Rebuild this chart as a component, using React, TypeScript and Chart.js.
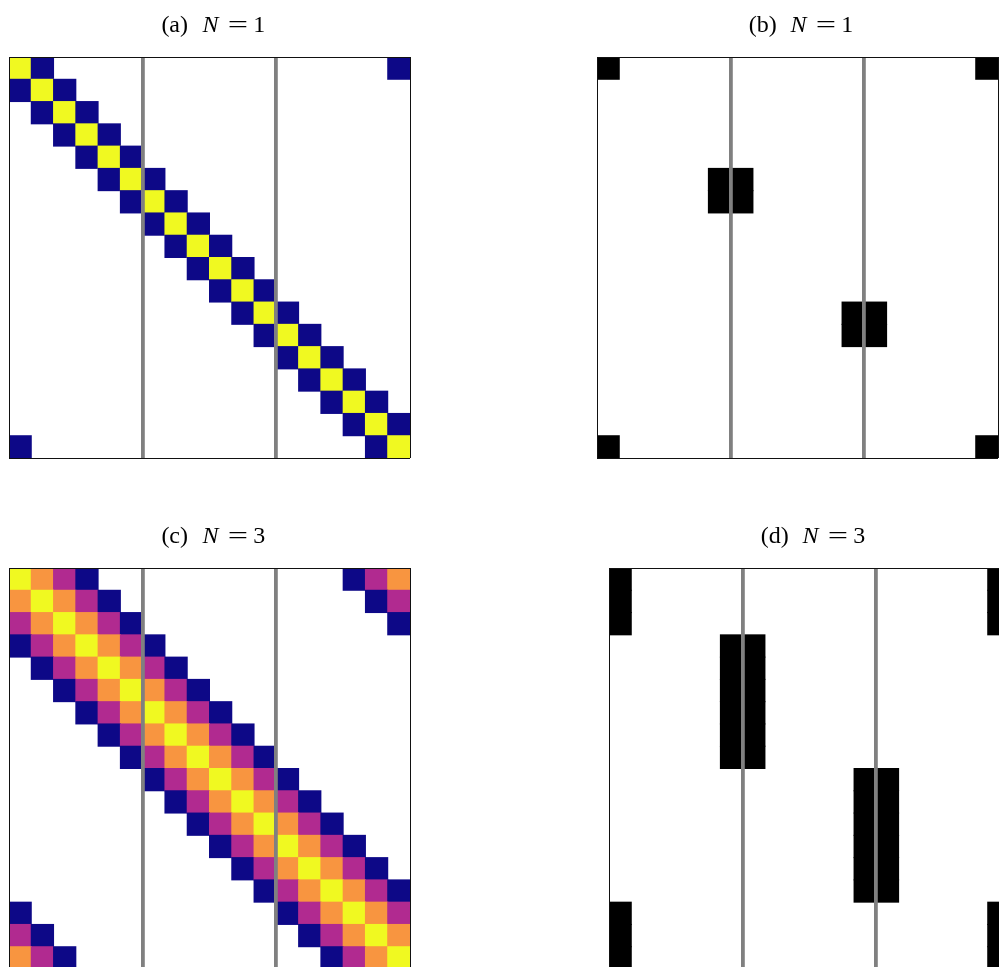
import React, { useEffect, useRef } from "react";
import { Chart, registerables } from "chart.js";

Chart.register(...registerables);

// ---------- data ----------
const GRID_SIZE = 18;
const X_TICKS = [0, 6, 12, 18];
const Y_TICKS = [0, 18];
const DIVIDER_TICKS = [6, 12];

// (a) N = 1 : level 2 = diagonal, level 1 = nearest neighbour (periodic)
const MATRIX_A = [
  "210000000000000001",
  "121000000000000000",
  "012100000000000000",
  "001210000000000000",
  "000121000000000000",
  "000012100000000000",
  "000001210000000000",
  "000000121000000000",
  "000000012100000000",
  "000000001210000000",
  "000000000121000000",
  "000000000012100000",
  "000000000001210000",
  "000000000000121000",
  "000000000000012100",
  "000000000000001210",
  "000000000000000121",
  "100000000000000012",
];

// (b) N = 1 : coupling mask
const MATRIX_B = [
  "100000000000000001",
  "000000000000000000",
  "000000000000000000",
  "000000000000000000",
  "000000000000000000",
  "000001100000000000",
  "000001100000000000",
  "000000000000000000",
  "000000000000000000",
  "000000000000000000",
  "000000000000000000",
  "000000000001100000",
  "000000000001100000",
  "000000000000000000",
  "000000000000000000",
  "000000000000000000",
  "000000000000000000",
  "100000000000000001",
];

// (c) N = 3 : level 4 = diagonal, 3, 2, 1 = distance 1, 2, 3 (periodic)
const MATRIX_C = [
  "432100000000000123",
  "343210000000000012",
  "234321000000000001",
  "123432100000000000",
  "012343210000000000",
  "001234321000000000",
  "000123432100000000",
  "000012343210000000",
  "000001234321000000",
  "000000123432100000",
  "000000012343210000",
  "000000001234321000",
  "000000000123432100",
  "000000000012343210",
  "000000000001234321",
  "100000000000123432",
  "210000000000012343",
  "321000000000001234",
];

// (d) N = 3 : coupling mask
const MATRIX_D = [
  "100000000000000001",
  "100000000000000001",
  "100000000000000001",
  "000001100000000000",
  "000001100000000000",
  "000001100000000000",
  "000001100000000000",
  "000001100000000000",
  "000001100000000000",
  "000000000001100000",
  "000000000001100000",
  "000000000001100000",
  "000000000001100000",
  "000000000001100000",
  "000000000001100000",
  "100000000000000001",
  "100000000000000001",
  "100000000000000001",
];

const PANEL_LABELS = ["(a)", "(b)", "(c)", "(d)"];
const PANEL_N = ["1", "1", "3", "3"];
const PANEL_MATRICES = [MATRIX_A, MATRIX_B, MATRIX_C, MATRIX_D];

// ---------- styles ----------
const COLORS_N1 = ["#0d0887", "#f0f921"];
const COLORS_N3 = ["#0d0887", "#b12a90", "#f89540", "#f0f921"];
const COLORS_MASK = ["#000000"];
const PANEL_COLORS = [COLORS_N1, COLORS_MASK, COLORS_N3, COLORS_MASK];

// plot-area top-left corners (page pixels), plot area 401 x 401
const PANEL_POS = [
  { left: 9, top: 57 },
  { left: 597, top: 57 },
  { left: 9, top: 568 },
  { left: 609, top: 568 },
];
const PLOT = 401;
const PAD = { left: 20, top: 57, right: 20, bottom: 12 };

const SERIF = "'Liberation Serif', 'DejaVu Serif', serif";
const TITLE_PX = 24;

const mathTitlePlugin = {
  id: "mathTitle",
  afterDraw(chart: any, _args: any, opts: any) {
    const { ctx, chartArea } = chart;
    const cx = (chartArea.left + chartArea.right) / 2;
    const y = chartArea.top - 25;
    ctx.save();
    ctx.fillStyle = "#000";
    ctx.textAlign = "center";
    ctx.textBaseline = "alphabetic";
    ctx.font = `${TITLE_PX}px ${SERIF}`;
    ctx.fillText(opts.label, cx - 34.8, y);
    ctx.font = `italic ${TITLE_PX}px ${SERIF}`;
    ctx.fillText("N", cx + 1.0, y);
    ctx.font = `${TITLE_PX}px ${SERIF}`;
    ctx.save();
    ctx.translate(cx + 28.5, y);
    ctx.scale(1.5, 1);
    ctx.fillText("=", 0, 0);
    ctx.restore();
    ctx.fillText(opts.n, cx + 49.8, y);
    ctx.restore();
  },
};

function buildCells(matrix: string[], colors: string[]) {
  const points: { x: number; y: [number, number] }[] = [];
  const bg: string[] = [];
  matrix.forEach((row, r) => {
    row.split("").forEach((ch, c) => {
      const level = Number(ch);
      if (level > 0) {
        points.push({ x: c + 0.5, y: [r, r + 1] });
        bg.push(colors[level - 1]);
      }
    });
  });
  return { points, bg };
}

function Panel({ idx }: { idx: number }) {
  const ref = useRef<HTMLCanvasElement | null>(null);
  useEffect(() => {
    if (!ref.current) return;
    const { points, bg } = buildCells(PANEL_MATRICES[idx], PANEL_COLORS[idx]);
    const chart = new Chart(ref.current, {
      type: "bar",
      data: {
        datasets: [
          {
            data: points as any,
            backgroundColor: bg,
            borderWidth: 0,
            barPercentage: 1,
            categoryPercentage: 1,
            inflateAmount: 0.5,
          } as any,
        ],
      },
      options: {
        responsive: false,
        animation: false,
        events: [],
        devicePixelRatio: 1,
        layout: { padding: PAD },
        plugins: {
          legend: { display: false },
          tooltip: { enabled: false },
          title: { display: false },
          mathTitle: { label: PANEL_LABELS[idx], n: PANEL_N[idx] },
        } as any,
        scales: {
          x: {
            type: "linear",
            min: 0,
            max: GRID_SIZE,
            offset: false,
            afterBuildTicks: (axis: any) => {
              axis.ticks = X_TICKS.map((v) => ({ value: v }));
            },
            ticks: { display: false },
            border: { display: false },
            grid: {
              offset: false,
              drawTicks: false,
              z: 1,
              color: (ctx: any) =>
                DIVIDER_TICKS.includes(ctx.tick?.value) ? "#808080" : "#111111",
              lineWidth: (ctx: any) =>
                DIVIDER_TICKS.includes(ctx.tick?.value) ? 3.8 : 1,
            },
          } as any,
          y: {
            type: "linear",
            min: 0,
            max: GRID_SIZE,
            reverse: true,
            afterBuildTicks: (axis: any) => {
              axis.ticks = Y_TICKS.map((v) => ({ value: v }));
            },
            ticks: { display: false },
            border: { display: false },
            grid: {
              drawTicks: false,
              z: 1,
              color: "#111111",
              lineWidth: 1,
            },
          } as any,
        },
      },
      plugins: [mathTitlePlugin],
    });
    return () => chart.destroy();
  }, [idx]);

  const pos = PANEL_POS[idx];
  const w = PLOT + PAD.left + PAD.right;
  const h = PLOT + PAD.top + PAD.bottom;
  return (
    <canvas
      ref={ref}
      width={w}
      height={h}
      style={{
        position: "absolute",
        left: pos.left - PAD.left,
        top: pos.top - PAD.top,
        width: w,
        height: h,
      }}
    />
  );
}

export default function App() {
  return (
    <div
      style={{
        position: "fixed",
        left: 0,
        top: 0,
        width: 999,
        height: 967,
        overflow: "hidden",
        background: "#fff",
      }}
    >
      {PANEL_LABELS.map((_, i) => (
        <Panel key={i} idx={i} />
      ))}
    </div>
  );
}
